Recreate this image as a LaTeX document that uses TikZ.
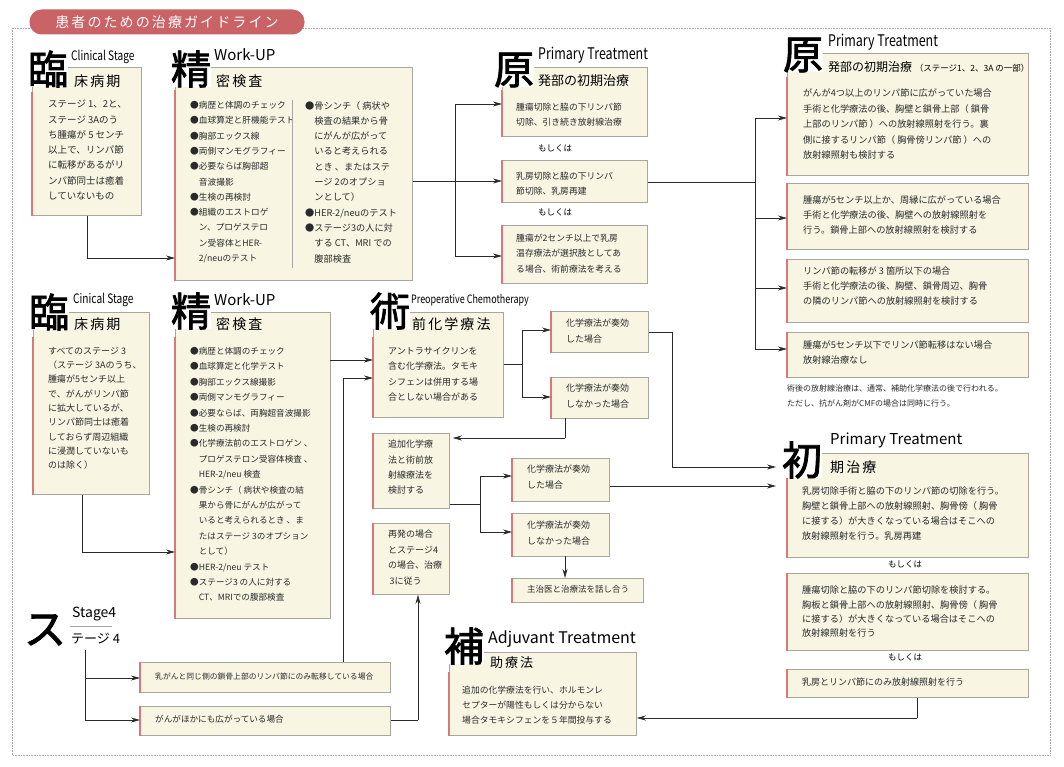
\documentclass[tikz,border=0pt]{standalone}
\usepackage{fontspec}
\setmainfont{Noto Sans CJK JP}
\newfontfamily\bigf{Noto Sans CJK JP}[FakeBold=2]
\newfontfamily\narf{Noto Sans CJK JP}[FakeStretch=0.78]
\newfontfamily\spf{Noto Sans CJK JP}[LetterSpace=15]
\usetikzlibrary{arrows.meta,calc}
\definecolor{cream}{HTML}{F8F5E3}
\definecolor{bgray}{HTML}{A9A79C}
\definecolor{rbar}{HTML}{D9787A}
\definecolor{pill}{HTML}{C96366}
\definecolor{ink}{HTML}{2A2A2A}
\tikzset{
 bxs/.style={draw=bgray,fill=cream,line width=0.8pt,inner sep=0},
 redbar/.style={draw=rbar,line width=1.4pt},
 tx/.style={inner sep=0,align=left,anchor=north west,text=ink,font=\fontsize{9}{15.3}\selectfont},
 bigc/.style={inner sep=0pt,fill=white,font=\bigf\fontsize{40}{40}\selectfont},
 eng/.style={inner sep=0,anchor=west,font=\fontsize{14}{14}\selectfont},
 engn/.style={inner sep=0,anchor=west,font=\narf\fontsize{13}{13}\selectfont},
 sub/.style={inner sep=0,anchor=west,font=\spf\fontsize{14}{14}\selectfont},
 arr/.style={draw=ink,line width=0.7pt,-{Stealth[length=9pt,width=5pt]}},
 ln/.style={draw=ink,line width=0.7pt},
 orl/.style={inner sep=0,font=\fontsize{8.5}{10}\selectfont},
}
\newcommand\bx[6]{\node[bxs,minimum width=#4pt,minimum height=#5pt,anchor=north west] (#1) at (#2,#3) {};
 \draw[redbar] ([yshift=-#6pt]#1.north west) -- (#1.south west);}
\begin{document}
\begin{tikzpicture}[x=1pt,y=-1pt]
\useasboundingbox (0,0) rectangle (1064,767);
\fill[white] (0,0) rectangle (1064,767);
\draw[gray!70,densely dotted,line width=0.6pt] (12,28) rectangle (1050,755);
\node[fill=pill,rounded corners=12pt,minimum width=275pt,minimum height=25pt,text=white,font=\spf\fontsize{14}{14}\selectfont] (title) at (167,22) {患者のための治療ガイドライン};

% ---------- Clinical stage 1 ----------
\bx{c1}{32}{67}{109}{148}{25}
\node[bigc] (k1) at (48,69) {臨};
\node[engn] (e1) at (71,57) {Clinical Stage};
\node[sub] (s1) at (74,81) {床病期};
\node[tx,font=\fontsize{9.5}{15.3}\selectfont] (t1) at (48,100) {ステージ 1、2と、\\ステージ 3Aのう\\ち腫瘍が 5 センチ\\以上で、リンパ節\\に転移があるがリ\\ンパ節同士は癒着\\していないもの};

\bx{wu1}{175}{67}{237}{213}{23}
\node[bigc] (k2) at (191,69) {精};
\node[eng,font=\fontsize{15}{15}\selectfont] (e2) at (214,55) {Work-UP};
\node[sub] (s2) at (216,81) {密検査};
\node[tx,font=\fontsize{8.7}{15.3}\selectfont] (t2) at (190,101) {●病歴と体調のチェック\\●血球算定と肝機能テスト\\●胸部エックス線\\●両側マンモグラフィー\\●必要ならば胸部超\\\hphantom{●}音波撮影\\●生検の再検討\\●組織のエストロゲ\\\hphantom{●}ン、プロゲステロ\\\hphantom{●}ン受容体とHER-\\\hphantom{●}2/neuのテスト};
\node[tx,font=\fontsize{9.2}{15.3}\selectfont] (t3) at (305,101) {●骨シンチ（ 病状や\\\hphantom{●}検査の結果から骨\\\hphantom{●}にがんが広がって\\\hphantom{●}いると考えられる\\\hphantom{●}とき 、またはステ\\\hphantom{●}ージ 2のオプショ\\\hphantom{●}ンとして）\\●HER-2/neuのテスト\\●ステージ3の人に対\\\hphantom{●}する CT、MRI での\\\hphantom{●}腹部検査};
\coordinate (sp1) at (292,100); \coordinate (sp2) at (292,268);
\draw[gray!70,line width=0.5pt] (sp1) -- (sp2);
\coordinate (j1) at (175,258);
\draw[arr] (c1.south) |- (j1);

% ---------- Primary treatment (middle) ----------
\bx{p1}{502}{67}{145}{69}{23}
\node[bigc] (k3) at (514,70) {原};
\node[engn,font=\narf\fontsize{16}{16}\selectfont] (e3) at (538,55) {Primary Treatment};
\node[inner sep=0,anchor=west,font=\fontsize{13}{13}\selectfont] (s3) at (538,81) {発部の初期治療};
\node[tx,font=\fontsize{8.8}{14.5}\selectfont] (tp1) at (516,103) {腫瘍切除と脇の下リンパ節\\切除、引き続き放射線治療};
\node[orl] (o1) at (555,148) {もしくは};
\bx{p2}{502}{160}{145}{42}{0}
\node[tx,font=\fontsize{8.8}{14.5}\selectfont] (tp2) at (516,172) {乳房切除と脇の下リンパ\\節切除、乳房再建};
\node[orl] (o2) at (555,212) {もしくは};
\bx{p3}{502}{225}{145}{58}{0}
\node[tx,font=\fontsize{8.8}{15.3}\selectfont] (tp3) at (516,234) {腫瘍が2センチ以上で乳房\\温存療法が選択肢としてあ\\る場合、術前療法を考える};
\coordinate (j2) at (455,104); \coordinate (j3) at (455,256); \coordinate (j4) at (455,181);
\draw[ln] (wu1.east |- j4) -- (j4);
\draw[arr] (j4) -- (j4 -| p2.west);
\draw[ln] (j2) -- (j3);
\draw[arr] (j2) -- (j2 -| p1.west);
\draw[arr] (j3) -- (j3 -| p3.west);

% ---------- Primary treatment (right) ----------
\bx{r1}{787}{53}{241}{122}{24}
\node[bigc] (k4) at (803,55) {原};
\node[engn,font=\narf\fontsize{16}{16}\selectfont] (e4) at (828,42) {Primary Treatment};
\node[inner sep=0,anchor=west,font=\fontsize{12}{12}\selectfont] (s4) at (828,67) {発部の初期治療 {\fontsize{8.5}{9}\selectfont（ステージ1、2、3A の一部）}};
\node[tx,font=\fontsize{9.2}{15.4}\selectfont] (tr1) at (803,89) {がんが4つ以上のリンパ節に広がっていた場合\\手術と化学療法の後、胸壁と鎖骨上部（ 鎖骨\\上部のリンパ節 ）への放射線照射を行う。裏\\側に接するリンパ節（ 胸骨傍リンパ節 ）への\\放射線照射も検討する};
\bx{r2}{787}{183}{241}{66}{0}
\node[tx,font=\fontsize{9.2}{15}\selectfont] (tr2) at (803,196) {腫瘍が5センチ以上か、周縁に広がっている場合\\手術と化学療法の後、胸壁への放射線照射を\\行う。鎖骨上部への放射線照射を検討する};
\bx{r3}{787}{259}{241}{63}{0}
\node[tx,font=\fontsize{9.2}{15}\selectfont] (tr3) at (803,267) {リンパ節の転移が 3 箇所以下の場合\\手術と化学療法の後、胸壁、鎖骨周辺、胸骨\\の隣のリンパ節への放射線照射を検討する};
\bx{r4}{787}{332}{241}{45}{0}
\node[tx,font=\fontsize{9.2}{15}\selectfont] (tr4) at (803,341) {腫瘍が5センチ以下でリンパ節転移はない場合\\放射線治療なし};
\node[tx,font=\fontsize{8}{15}\selectfont] (note) at (787,385) {術後の放射線治療は、通常、補助化学療法の後で行われる。\\ただし、抗がん剤がCMFの場合は同時に行う。};
\coordinate (j5) at (755,182); \coordinate (j6) at (755,118); \coordinate (j7) at (755,218);
\coordinate (j8) at (755,288); \coordinate (j9) at (755,349);
\draw[ln] (p2.east |- j5) -- (j5);
\draw[ln] (j6) -- (j9);
\draw[arr] (j6) -- (j6 -| r1.west);
\draw[arr] (j7) -- (j7 -| r2.west);
\draw[arr] (j8) -- (j8 -| r3.west);
\draw[arr] (j9) -- (j9 -| r4.west);

% ---------- Clinical stage 2 ----------
\bx{c2}{33}{312}{116}{182}{25}
\node[bigc] (k5) at (49,312) {臨};
\node[engn] (e5) at (73,300) {Cinical Stage};
\node[sub] (s5) at (74,324) {床病期};
\node[tx,font=\fontsize{9}{14.3}\selectfont] (t5) at (48,347) {すべてのステージ 3\\（ステージ 3Aのうち、\\腫瘍が5センチ以上\\で、がんがリンパ節\\に拡大しているが、\\リンパ節同士は癒着\\しておらず周辺組織\\に浸潤していないも\\のは除く）};

\bx{wu2}{175}{312}{155}{306}{25}
\node[bigc] (k6) at (191,311) {精};
\node[eng,font=\fontsize{15}{15}\selectfont] (e6) at (214,300) {Work-UP};
\node[sub] (s6) at (216,324) {密検査};
\node[tx,font=\fontsize{8.6}{15.4}\selectfont] (t6) at (190,347) {●病歴と体調のチェック\\●血球算定と化学テスト\\●胸部エックス線撮影\\●両側マンモグラフィー\\●必要ならば、両胸超音波撮影\\●生検の再検討\\●化学療法前のエストロゲン 、\\\hphantom{●}プロゲステロン受容体検査 、\\\hphantom{●}HER-2/neu 検査\\●骨シンチ（ 病状や検査の結\\\hphantom{●}果から骨にがんが広がって\\\hphantom{●}いると考えられるとき 、ま\\\hphantom{●}たはステージ 3のオプション\\\hphantom{●}として）\\●HER-2/neu テスト\\●ステージ3 の人に対する\\\hphantom{●}CT、MRIでの腹部検査};
\coordinate (j10) at (175,552);
\draw[arr] ([xshift=-9pt]c2.south) |- (j10);

% ---------- Preoperative chemotherapy ----------
\bx{pc}{373}{312}{130}{105}{25}
\node[bigc] (k7) at (390,311) {術};
\node[engn,font=\narf\fontsize{11.5}{12}\selectfont] (e7) at (411,300) {Preoperative Chemotherapy};
\node[sub] (s7) at (412,324) {前化学療法};
\node[tx,font=\fontsize{9}{15.3}\selectfont] (t7) at (388,347) {アントラサイクリンを\\含む化学療法。タモキ\\シフェンは併用する場\\合としない場合がある};
\coordinate (j11) at (330,360);
\draw[arr] (j11) -- (j11 -| pc.west);

\bx{ce1}{551}{311}{97}{41}{0}
\node[tx] (tc1) at (566,319) {化学療法が奏効\\した場合};
\bx{ce2}{551}{377}{97}{41}{0}
\node[tx] (tc2) at (566,384) {化学療法が奏効\\しなかった場合};
\coordinate (j12) at (522,330); \coordinate (j13) at (522,397); \coordinate (j14) at (522,364);
\draw[ln] (pc.east |- j14) -- (j14);
\draw[ln] (j12) -- (j13);
\draw[arr] (j12) -- (j12 -| ce1.west);
\draw[arr] (j13) -- (j13 -| ce2.west);

\bx{ad}{373}{433}{76}{75}{0}
\node[tx,font=\fontsize{9}{15.3}\selectfont] (tad) at (388,440) {追加化学療\\法と術前放\\射線療法を\\検討する};
\coordinate (j15) at (565,418); \coordinate (j16) at (565,438);
\draw[ln] (j15) -- (j16);
\draw[arr] (j16) -- ([xshift=3pt]j16 -| ad.east);

\bx{ce3}{512}{458}{97}{43}{0}
\node[tx] (tc3) at (527,465) {化学療法が奏効\\した場合};
\bx{ce4}{512}{513}{97}{43}{0}
\node[tx] (tc4) at (527,521) {化学療法が奏効\\しなかった場合};
\coordinate (j17) at (480,476); \coordinate (j18) at (480,532); \coordinate (j19) at (480,504);
\draw[ln] (ad.east |- j19) -- (j19);
\draw[ln] (j17) -- (j18);
\draw[arr] (j17) -- (j17 -| ce3.west);
\draw[arr] (j18) -- (j18 -| ce4.west);

\bx{md}{512}{578}{131}{24}{0}
\node[tx,font=\fontsize{8.5}{10}\selectfont] (tmd) at (527,585) {主治医と治療法を話し合う};
\coordinate (j20) at (565,556);
\draw[arr] (j20) -- (j20 |- md.north);

\bx{rc}{373}{523}{76}{71}{0}
\node[tx,font=\fontsize{9}{15.5}\selectfont] (trc) at (388,530) {再発の場合\\とステージ4\\の場合、治療\\\,3に従う};

% ---------- Stage 4 ----------
\node[inner sep=0,font=\bigf\fontsize{42}{42}\selectfont] (k8) at (45,630) {ス};
\node[eng,font=\fontsize{14}{14}\selectfont] (e8) at (72,614) {Stage4};
\coordinate (u1) at (70,626); \coordinate (u2) at (112,626);
\draw[gray!70,line width=0.5pt] (u1) -- (u2);
\node[sub,font=\fontsize{13}{13}\selectfont] (s8) at (71,639) {テージ 4};
\bx{sb1}{140}{662}{250}{30}{0}
\node[tx,font=\fontsize{7.8}{10}\selectfont] (tsb1) at (155,673) {乳がんと同じ側の鎖骨上部のリンパ節にのみ転移している場合};
\bx{sb2}{140}{706}{250}{29}{0}
\node[tx,font=\fontsize{8.6}{10}\selectfont] (tsb2) at (155,715) {がんがほかにも広がっている場合};
\coordinate (j21) at (85,650); \coordinate (j22) at (85,678); \coordinate (j23) at (85,720);
\draw[ln] (j21) -- (j23);
\draw[arr] (j22) -- (j22 -| sb1.west);
\draw[arr] (j23) -- (j23 -| sb2.west);
\coordinate (j24) at (343,378);
\draw[ln] (j24 |- sb1.north) -- (j24);
\draw[arr] (j24) -- (j24 -| pc.west);
\coordinate (j25) at (418,720);
\draw[ln] (sb2.east |- j25) -- (j25);
\draw[arr] (j25) -- (j25 |- rc.south);

% ---------- Adjuvant ----------
\bx{adj}{449}{652}{187}{83}{20}
\node[bigc] (k9) at (464,646) {補};
\node[eng,font=\fontsize{16}{16}\selectfont] (e9) at (488,639) {Adjuvant Treatment};
\node[sub,font=\spf\fontsize{13}{13}\selectfont] (s9) at (490,663) {助療法};
\node[tx,font=\fontsize{8.8}{15}\selectfont] (tadj) at (462,686) {追加の化学療法を行い、ホルモンレ\\セプターが陽性もしくは分からない\\場合タモキシフェンを５年間投与する};

% ---------- Primary treatment (lower right) ----------
\bx{i1}{787}{453}{241}{104}{24}
\node[bigc] (k10) at (802,460) {初};
\node[eng,font=\fontsize{15}{15}\selectfont] (e10) at (830,440) {Primary Treatment};
\node[sub] (s10) at (830,467) {期治療};
\node[tx,font=\fontsize{9.2}{14.7}\selectfont] (ti1) at (802,487) {乳房切除手術と脇の下のリンパ節の切除を行う。\\胸壁と鎖骨上部への放射線照射、胸骨傍（ 胸骨\\に接する）が大きくなっている場合はそこへの\\放射線照射を行う。乳房再建};
\node[orl] (o3) at (905,564) {もしくは};
\bx{i2}{787}{573}{241}{77}{0}
\node[tx,font=\fontsize{9.2}{14.3}\selectfont] (ti2) at (802,586) {腫瘍切除と脇の下のリンパ節切除を検討する。\\胸板と鎖骨上部への放射線照射、胸骨傍（ 胸骨\\に接する）が大きくなっている場合はそこへの\\放射線照射を行う};
\node[orl] (o4) at (905,657) {もしくは};
\bx{i3}{787}{669}{241}{28}{0}
\node[tx,font=\fontsize{9}{10}\selectfont] (ti3) at (802,678) {乳房とリンパ節にのみ放射線照射を行う};
\coordinate (j26) at (917,718);
\draw[ln] (j26 |- i3.south) -- (j26);
\draw[arr] (j26) -- (j26 -| adj.east);
\coordinate (j27) at (672,332); \coordinate (j28) at (672,467); \coordinate (j29) at (776,467);
\draw[ln] (ce1.east |- j27) -- (j27) -- (j28);
\draw[arr] (j28) -- (j29);
\coordinate (j30) at (776,486);
\draw[arr] (ce3.east |- j30) -- (j30);
\end{tikzpicture}
\end{document}
